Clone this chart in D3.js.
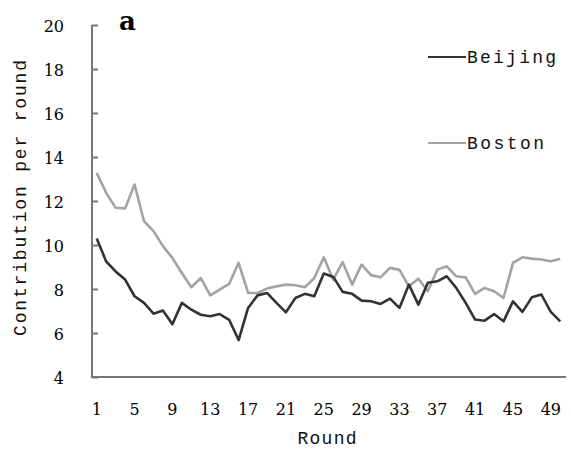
<!DOCTYPE html>
<html><head><meta charset="utf-8">
<script src="https://cdn.jsdelivr.net/npm/d3@7"></script>
<style>body{margin:0;background:#fff}
.serif{font-family:"DejaVu Serif",serif}
.mono{font-family:"Liberation Mono","DejaVu Sans Mono",monospace}
</style>
</head><body><svg id="c" width="571" height="458"></svg>
<script>
const rounds = d3.range(1, 51);
const beijing = [10.3,9.25,8.8,8.43,7.67,7.37,6.88,7.02,6.4,7.37,7.06,6.83,6.76,6.86,6.6,5.68,7.14,7.71,7.82,7.37,6.94,7.59,7.78,7.67,8.7,8.55,7.87,7.78,7.47,7.44,7.32,7.56,7.14,8.2,7.29,8.28,8.35,8.58,8.05,7.37,6.61,6.56,6.86,6.53,7.44,6.96,7.62,7.75,6.96,6.53];
const boston = [13.28,12.37,11.69,11.66,12.75,11.08,10.63,9.95,9.41,8.73,8.08,8.5,7.71,7.97,8.23,9.19,7.82,7.82,8.02,8.12,8.2,8.17,8.08,8.5,9.44,8.43,9.22,8.2,9.11,8.63,8.53,8.96,8.87,8.12,8.47,7.9,8.88,9.03,8.58,8.53,7.78,8.05,7.9,7.59,9.19,9.44,9.38,9.34,9.26,9.38];
const xTickLabels = [1,5,9,13,17,21,25,29,33,37,41,45,49];
const yTickLabels = [4,6,8,10,12,14,16,18,20];
const seriesNames = ["Beijing","Boston"];

const svg = d3.select("#c");
const x = d3.scalePoint().domain(rounds).range([92,565]).padding(0.5);
const y = d3.scaleLinear().domain([4,20]).range([377,25]);
const axisCol = "#777";

// y axis
const ya = svg.append("g").attr("transform","translate(92,0)")
  .call(d3.axisRight(y).tickValues(yTickLabels).tickSize(6).tickFormat(""));
ya.select(".domain").attr("stroke",axisCol).attr("stroke-width",2).attr("d","M0,25V377");
ya.selectAll(".tick line").attr("stroke",axisCol).attr("stroke-width",2);
svg.append("g").selectAll("text").data(yTickLabels).join("text").attr("class","serif")
  .attr("x",64).attr("y",d=>y(d)+1).attr("dy","0.35em").attr("text-anchor","end")
  .attr("font-size",16).attr("fill","#000").text(d=>d);

// x axis
const xa = svg.append("g").attr("transform","translate(0,377)")
  .call(d3.axisBottom(x).tickValues(xTickLabels).tickSize(0).tickFormat(""));
xa.select(".domain").attr("stroke",axisCol).attr("stroke-width",2).attr("d","M91,0H566");
svg.append("g").selectAll("text").data(xTickLabels).join("text").attr("class","serif")
  .attr("x",d=>x(d)).attr("y",409).attr("dy","0.35em").attr("text-anchor","middle")
  .attr("font-size",16).attr("fill","#000").text(d=>d);

// lines
const line = d3.line().x((d,i)=>x(rounds[i])).y(d=>y(d));
svg.append("path").datum(boston).attr("d",line).attr("fill","none")
  .attr("stroke","#a3a3a3").attr("stroke-width",2.6).attr("stroke-linejoin","round");
svg.append("path").datum(beijing).attr("d",line).attr("fill","none")
  .attr("stroke","#333").attr("stroke-width",2.6).attr("stroke-linejoin","round");

// legend
const leg = [{n:seriesNames[0],c:"#333",y:57,w:89},{n:seriesNames[1],c:"#a3a3a3",y:143,w:77}];
leg.forEach(l=>{
  svg.append("line").attr("x1",428).attr("x2",466).attr("y1",l.y).attr("y2",l.y)
    .attr("stroke",l.c).attr("stroke-width",2);
  svg.append("text").attr("class","mono").attr("x",467).attr("y",l.y).attr("dy","0.35em")
    .attr("font-size",18).attr("fill","#111")
    .attr("textLength",l.w).attr("lengthAdjust","spacing").text(l.n);
});

// titles
svg.append("text").attr("class","serif").attr("x",119).attr("y",30)
  .attr("font-weight","bold").attr("font-size",26).attr("fill","#000").text("a");
svg.append("text").attr("class","mono").attr("transform","translate(20,198) rotate(-90)").attr("text-anchor","middle")
  .attr("dy","0.35em").attr("font-size",18).attr("fill","#111")
  .attr("textLength",276).attr("lengthAdjust","spacing").text("Contribution per round");
svg.append("text").attr("class","mono").attr("x",327).attr("y",438).attr("text-anchor","middle").attr("dy","0.35em")
  .attr("font-size",18).attr("fill","#111")
  .attr("textLength",59).attr("lengthAdjust","spacing").text("Round");
</script></body></html>
